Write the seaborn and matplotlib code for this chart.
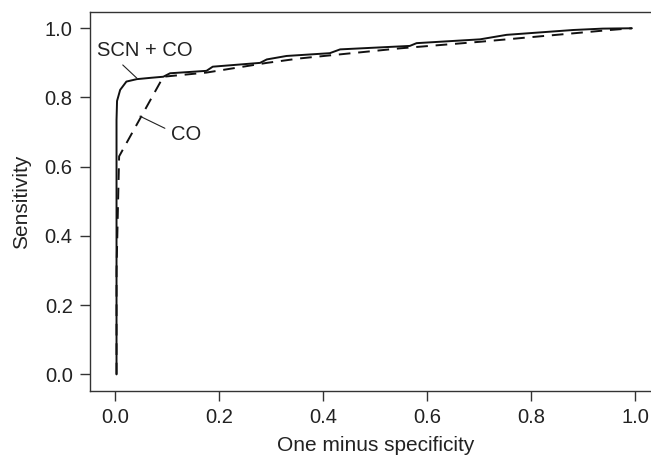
import numpy as np
import pandas as pd
import seaborn as sns
import matplotlib.pyplot as plt

# ROC curve points
scn_co_fpr = [0.003, 0.003, 0.004, 0.010, 0.022, 0.042, 0.070, 0.093, 0.106, 0.176, 0.188,
              0.279, 0.292, 0.330, 0.413, 0.433, 0.567, 0.580, 0.702, 0.753, 0.881, 0.938, 0.994]
scn_co_tpr = [0.000, 0.735, 0.790, 0.822, 0.846, 0.853, 0.857, 0.860, 0.870, 0.877, 0.889,
              0.900, 0.910, 0.920, 0.928, 0.939, 0.949, 0.957, 0.968, 0.981, 0.995, 0.999, 1.000]

co_fpr = [0.003, 0.003, 0.006, 0.008, 0.093, 0.176, 0.292, 0.356, 0.548, 0.702, 0.952, 0.994]
co_tpr = [0.000, 0.300, 0.500, 0.630, 0.860, 0.872, 0.900, 0.913, 0.942, 0.961, 0.995, 1.000]

x_ticks = [0.0, 0.2, 0.4, 0.6, 0.8, 1.0]
y_ticks = [0.0, 0.2, 0.4, 0.6, 0.8, 1.0]

sns.set_style("ticks")
plt.rcParams["font.family"] = ["Liberation Sans", "DejaVu Sans"]
plt.rcParams["font.size"] = 14

df_a = pd.DataFrame({"fpr": scn_co_fpr, "tpr": scn_co_tpr})
df_b = pd.DataFrame({"fpr": co_fpr, "tpr": co_tpr})

fig = plt.figure(figsize=(6.51, 4.61), dpi=100)
# right spine sits just past the image edge, as in the reference
ax = fig.add_axes([90 / 651, 70 / 461, 571 / 651, 379 / 461])

# estimator=None: plot the points as they are, no aggregation / CI band
sns.lineplot(data=df_a, x="fpr", y="tpr", sort=False, estimator=None,
             color="#111111", lw=1.4, ax=ax)
sns.lineplot(data=df_b, x="fpr", y="tpr", sort=False, estimator=None,
             color="#111111", lw=1.4, linestyle=(0, (6, 4)), ax=ax)

ax.set_xlim(-0.048, 1.05)
ax.set_ylim(-0.048, 1.047)
ax.set_xticks(x_ticks)
ax.set_yticks(y_ticks)
ax.set_xticklabels([f"{t:.1f}" for t in x_ticks])
ax.set_yticklabels([f"{t:.1f}" for t in y_ticks])
ax.tick_params(length=7, width=1, colors="#333333", labelcolor="#222222", pad=5.5, labelsize=14.5)
for s in ax.spines.values():
    s.set_color("#333333")
    s.set_linewidth(1)

ax.set_xlabel("One minus specificity", fontsize=15, color="#222222", labelpad=6.5)
ax.set_ylabel("Sensitivity", fontsize=15, color="#222222", labelpad=10)

# curve labels with leader lines
ax.text(0.058, 0.937, "SCN + CO", fontsize=14.5, ha="center", va="center", color="#222222")
ax.plot([0.015, 0.042], [0.894, 0.856], color="#222222", lw=0.8)
ax.text(0.137, 0.692, "CO", fontsize=14.5, ha="center", va="center", color="#222222")
ax.plot([0.048, 0.096], [0.746, 0.711], color="#222222", lw=0.8)

fig.savefig("out.png", dpi=100)
